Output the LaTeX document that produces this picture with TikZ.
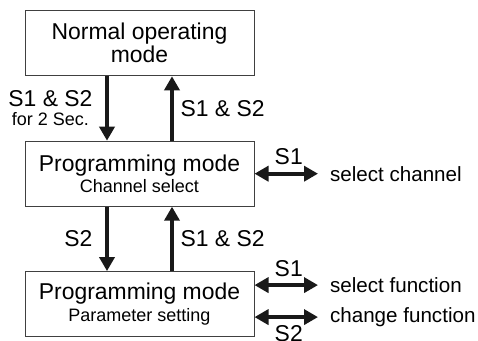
\documentclass[tikz,border=0pt]{standalone}
\usepackage{fontspec}
\setmainfont{Liberation Sans}
\usetikzlibrary{arrows.meta}

\newcommand{\bigtxt}{\fontsize{11.45pt}{11.5pt}\selectfont}
\newcommand{\smalltxt}{\fontsize{9pt}{9.5pt}\selectfont}
\newcommand{\sidetxt}{\fontsize{10.3pt}{11pt}\selectfont}

\begin{document}
\begin{tikzpicture}[
  node distance=65.2pt,
  >={Triangle[length=7pt,width=7.5pt]},
  mode/.style = {
    draw=black!75,
    line width=0.5pt,
    shape=rectangle,
    minimum width=114.5pt,
    minimum height=32.5pt,
    inner sep=0pt,
    font=\bigtxt,
    align=center
  },
  flow/.style = {
    ->,
    draw=black!90,
    line width=1.9pt
  },
  toggle/.style = {
    <->,
    draw=black!90,
    line width=1.9pt,
    shorten >=2.5pt
  },
  action/.style = {
    anchor=west,
    font=\sidetxt
  },
  key/.style = {
    font=\bigtxt,
    align=center
  },
]
  \useasboundingbox (0,0) rectangle (239pt,-170.5pt);

  \node (normal)[mode] at (69.75pt,-21.65pt) {Normal operating\\mode};
  \node (chan)[
    below of=normal,
    mode
  ] {Programming mode\\[-0.75pt]{\smalltxt Channel select}};
  \node (param)[
    below of=chan,
    mode
  ] {Programming mode\\[-0.75pt]{\smalltxt Parameter setting}};

  \node (selchan)[
    right of=chan,
    action,
    xshift=26.55pt
  ] {select channel};
  \node (selfunc)[
    right of=param,
    action,
    xshift=26.55pt,
    yshift=9.5pt
  ] {select function};
  \node (chgfunc)[
    right of=param,
    action,
    xshift=26.55pt,
    yshift=-6.5pt
  ] {change function};

  \draw[flow] ([xshift=-16.25pt]normal.south) -- ([xshift=-16.25pt]chan.north)
    node[left,midway,key,xshift=-3pt] {S1 \& S2\\[-2pt]{\smalltxt for 2 Sec.}};
  \draw[flow] ([xshift=16.25pt]chan.north) -- ([xshift=16.25pt]normal.south)
    node[right,midway,key] {S1 \& S2};
  \draw[flow] ([xshift=-16.25pt]chan.south) -- ([xshift=-16.25pt]param.north)
    node[left,midway,key,xshift=-3pt] {S2};
  \draw[flow] ([xshift=16.25pt]param.north) -- ([xshift=16.25pt]chan.south)
    node[right,midway,key] {S1 \& S2};

  \draw[toggle] (chan.east) -- (selchan.west) node[above,midway,key] {S1};
  \draw[toggle] ([yshift=9.5pt]param.east) -- (selfunc.west) node[above,midway,key] {S1};
  \draw[toggle] ([yshift=-6.5pt]param.east) -- (chgfunc.west) node[below,midway,key] {S2};
\end{tikzpicture}
\end{document}
